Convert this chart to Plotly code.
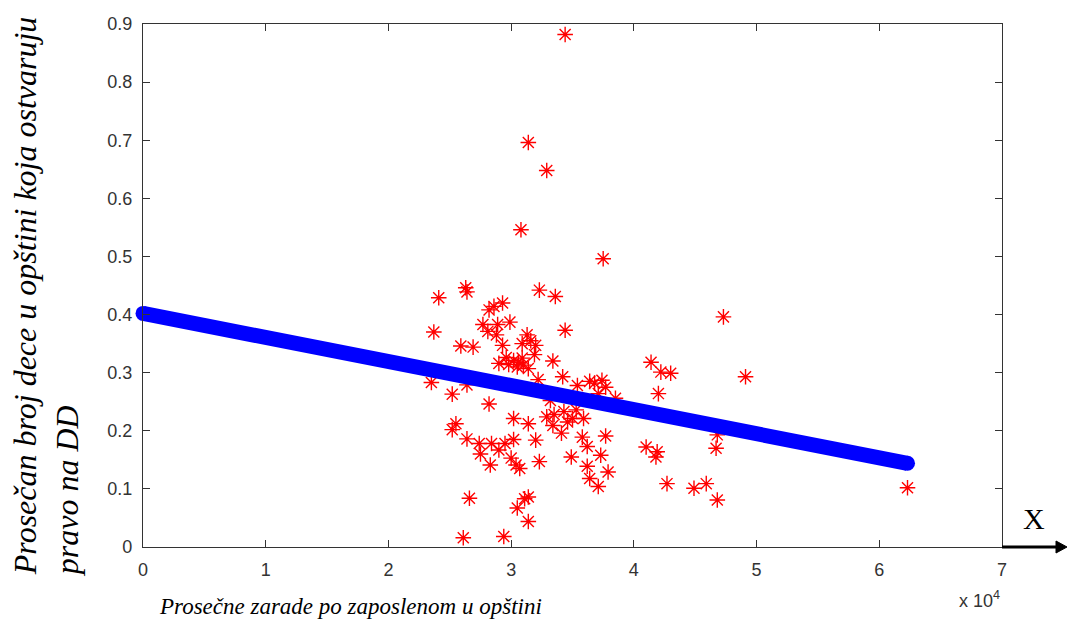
import plotly.graph_objects as go

# Average salary per employee in the municipality (RSD) vs. average number of
# children entitled to child allowance (DD)
salary = [
    34400, 31400, 32900, 30800, 37500, 24100, 26300, 26400, 32300, 33600,
    47300, 29300, 28600, 28200, 23700, 34400, 27700, 28900, 29900, 28100,
    31300, 25900, 26900, 29300, 30900, 32000, 31900, 33400, 29000, 29800,
    30500, 31400, 30900, 30200, 41400, 42200, 43000, 49100, 34200, 32200,
    23500, 26400, 35400, 36400, 37400, 37100, 42000, 25200, 38500, 28200,
    33200, 34300, 35000, 35900, 32900, 30200, 31400, 25500, 25200, 33400,
    34100, 46800, 37700, 35800, 26400, 27400, 28400, 29500, 30200, 32000,
    36200, 41000, 41900, 46700, 27500, 29000, 30000, 34900, 37300, 41800,
    32300, 28300, 30400, 30700, 36200, 37900, 36400, 37100, 42700, 44900,
    45900, 62300, 26600, 31400, 31100, 46800, 30500, 31400, 26100, 29400,
    30600, 31000, 29600, 33500, 34600, 35300, 37700, 36800, 28800, 31600,
]
children = [
    0.882, 0.696, 0.648, 0.546, 0.496, 0.429, 0.446, 0.439, 0.442, 0.431,
    0.396, 0.420, 0.414, 0.408, 0.370, 0.373, 0.383, 0.383, 0.387, 0.371,
    0.365, 0.346, 0.344, 0.347, 0.350, 0.347, 0.331, 0.320, 0.316, 0.314,
    0.310, 0.307, 0.325, 0.321, 0.318, 0.301, 0.299, 0.293, 0.293, 0.288,
    0.283, 0.279, 0.278, 0.285, 0.287, 0.264, 0.264, 0.263, 0.256, 0.246,
    0.252, 0.233, 0.221, 0.221, 0.224, 0.221, 0.212, 0.212, 0.202, 0.209,
    0.196, 0.193, 0.191, 0.189, 0.186, 0.178, 0.178, 0.178, 0.185, 0.184,
    0.173, 0.172, 0.164, 0.170, 0.160, 0.167, 0.153, 0.155, 0.158, 0.155,
    0.147, 0.141, 0.141, 0.135, 0.139, 0.129, 0.118, 0.104, 0.109, 0.101,
    0.109, 0.102, 0.084, 0.086, 0.083, 0.081, 0.067, 0.044, 0.016, 0.018,
    0.318, 0.313, 0.326, 0.228, 0.215, 0.236, 0.275, 0.282, 0.365, 0.355,
]

# Fitted regression line (end points)
fit_x = [0, 62300]
fit_y = [0.402, 0.144]

x_ticks = [0, 10000, 20000, 30000, 40000, 50000, 60000, 70000]
x_tick_text = ["0", "1", "2", "3", "4", "5", "6", "7"]
y_ticks = [0, 0.1, 0.2, 0.3, 0.4, 0.5, 0.6, 0.7, 0.8, 0.9]
y_tick_text = ["0", "0.1", "0.2", "0.3", "0.4", "0.5", "0.6", "0.7", "0.8", "0.9"]

fig = go.Figure()

fig.add_trace(go.Scatter(
    x=salary, y=children, mode="markers",
    marker=dict(symbol="asterisk-open", size=13, color="#ff0000",
                line=dict(color="#ff0000", width=1.4)),
    showlegend=False, cliponaxis=False,
))

fig.add_trace(go.Scatter(
    x=fit_x, y=fit_y, mode="lines+markers",
    line=dict(color="#0000ff", width=15),
    marker=dict(symbol="circle", size=15, color="#0000ff"),
    showlegend=False, cliponaxis=False,
))

axis_common = dict(
    showline=True, linecolor="#333333", linewidth=1.2, mirror="ticks",
    ticks="inside", ticklen=7, tickcolor="#333333", tickwidth=1.2,
    showgrid=False, zeroline=False, ticklabelstandoff=6,
    tickfont=dict(family="Liberation Sans", size=18, color="#333333"),
)

fig.update_xaxes(range=[0, 70000], tickvals=x_ticks, ticktext=x_tick_text, **axis_common)
fig.update_yaxes(range=[0, 0.9], tickvals=y_ticks, ticktext=y_tick_text, **axis_common)

# Arrow marking the X direction at the lower right corner
arrow_tip = (1067 - 143) / 859
arrow_base = (1056 - 143) / 859
arrow_half = 6 / 523

fig.update_layout(
    width=1067, height=628,
    margin=dict(l=143, r=65, t=24, b=81),
    paper_bgcolor="white", plot_bgcolor="white",
    shapes=[
        dict(type="line", xref="paper", yref="paper", x0=1.0, x1=arrow_base,
             y0=0, y1=0, line=dict(color="black", width=3)),
        dict(type="path", xref="paper", yref="paper",
             path=f"M {arrow_base},{arrow_half} L {arrow_tip},0 L {arrow_base},{-arrow_half} Z",
             fillcolor="black", line=dict(color="black", width=1)),
    ],
    annotations=[
        dict(text="Prosečan broj dece u opštini koja ostvaruju<br>pravo na DD",
             xref="paper", yref="paper", x=-0.112, y=-0.06,
             xanchor="center", yanchor="bottom", textangle=-90, align="left",
             showarrow=False,
             font=dict(family="Liberation Serif", size=32, color="black", style="italic")),
        dict(text="Prosečne zarade po zaposlenom u opštini",
             xref="paper", yref="paper", x=0.241, y=-0.113,
             xanchor="center", yanchor="middle", showarrow=False,
             font=dict(family="Liberation Serif", size=23, color="black", style="italic")),
        dict(text="x 10<sup>4</sup>",
             xref="paper", yref="paper", x=1.0, y=-0.1,
             xanchor="right", yanchor="middle", showarrow=False,
             font=dict(family="Liberation Sans", size=18, color="#333333")),
        dict(text="X",
             xref="paper", yref="paper", x=1.037, y=0.055,
             xanchor="center", yanchor="middle", showarrow=False,
             font=dict(family="Liberation Serif", size=30, color="black")),
    ],
)

fig.write_html("out.html")
